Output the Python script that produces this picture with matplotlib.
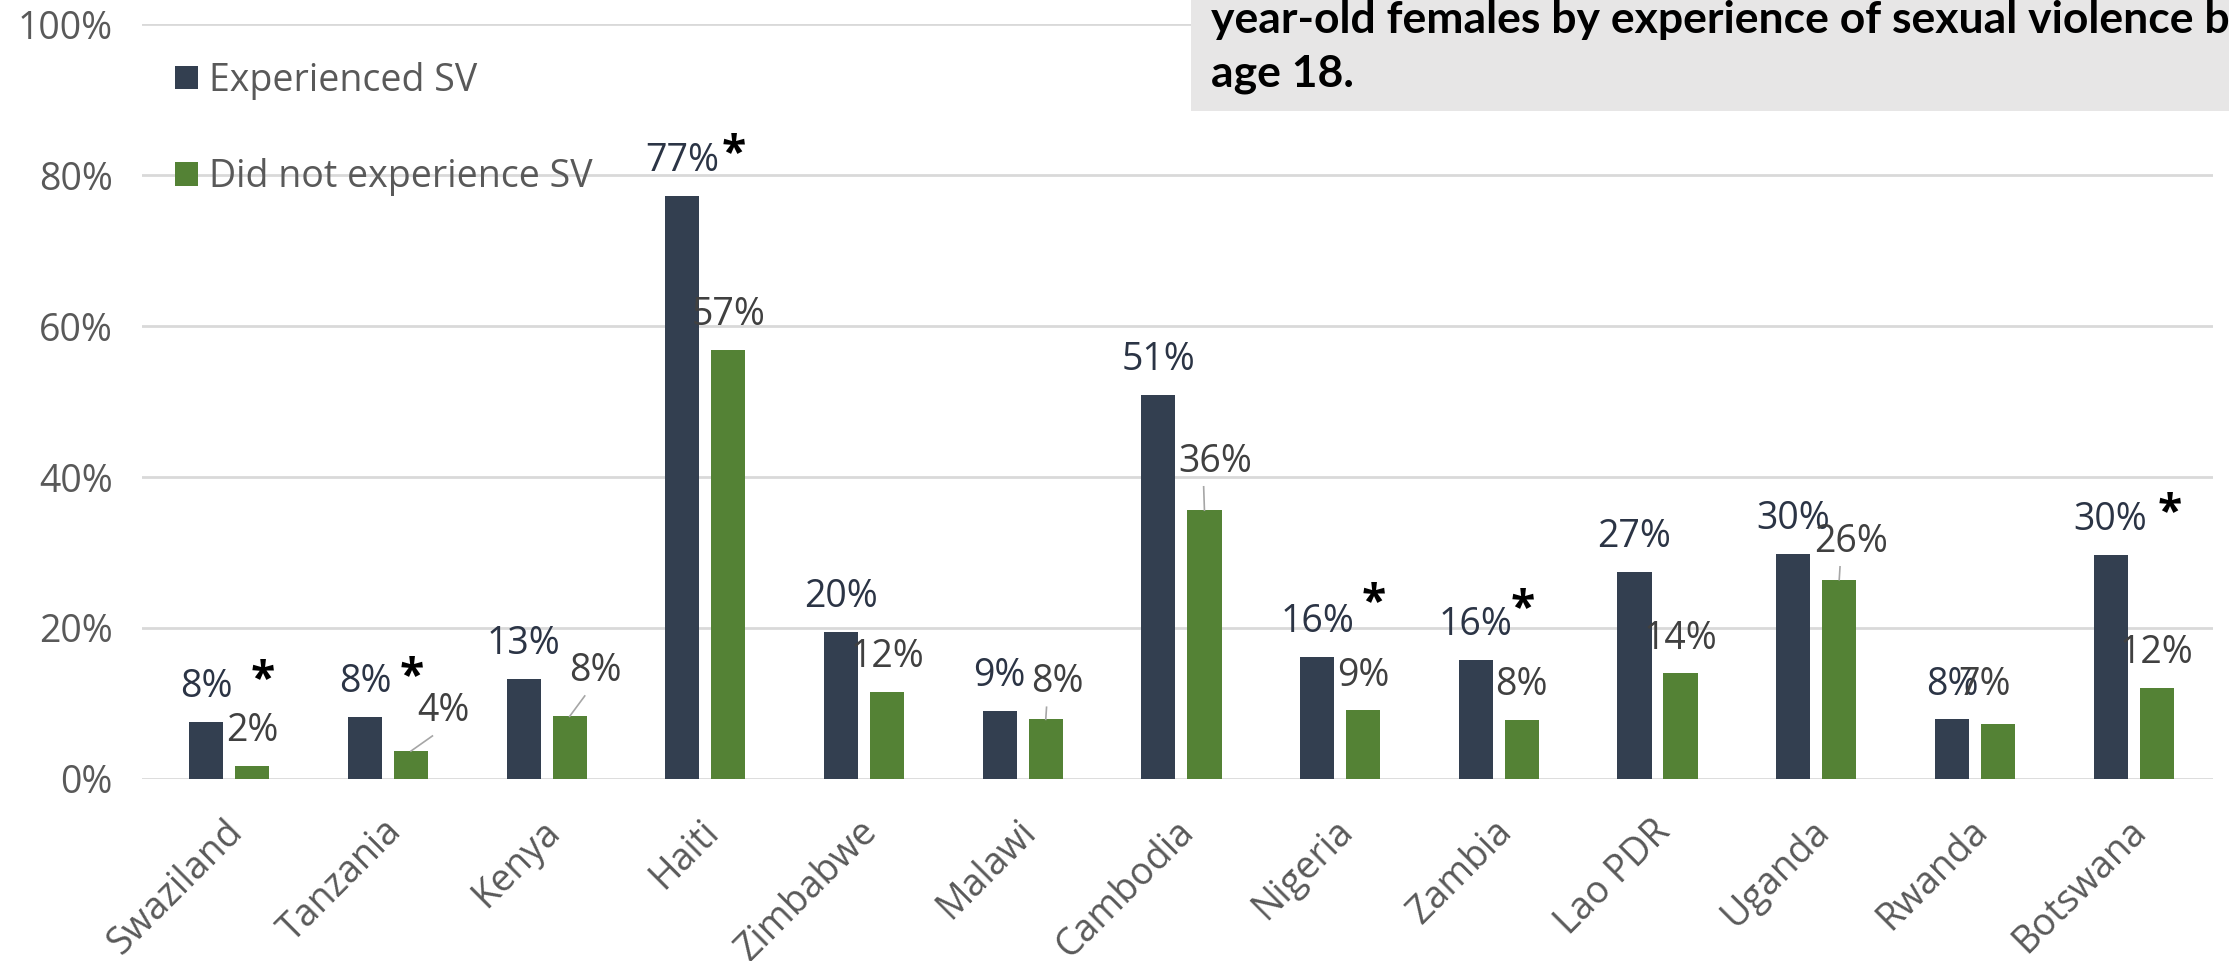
import matplotlib.pyplot as plt
import matplotlib.transforms as mtransforms
from matplotlib.patches import Rectangle

plt.rcParams['font.family'] = ['Open Sans', 'DejaVu Sans']

countries = ['Swaziland', 'Tanzania', 'Kenya', 'Haiti', 'Zimbabwe', 'Malawi',
             'Cambodia', 'Nigeria', 'Zambia', 'Lao PDR', 'Uganda', 'Rwanda',
             'Botswana']
experienced = [7.6, 8.2, 13.3, 77.2, 19.5, 9.0, 50.9, 16.2, 15.8, 27.4, 29.8, 7.9, 29.7]
not_experienced = [1.7, 3.7, 8.3, 56.8, 11.5, 7.9, 35.6, 9.1, 7.8, 14.0, 26.4, 7.3, 12.1]
significant = ['Swaziland', 'Tanzania', 'Haiti', 'Nigeria', 'Zambia', 'Botswana']

DARK = '#333F50'
GREEN = '#548235'
GRID = '#D9D9D9'
TXT = '#595959'

# green labels that were dragged off their bars: (dx, dy) from bar top, leader?
moved = {1: (0.205, 5.3, True), 2: (0.165, 6.0, True), 5: (0.075, 4.9, True),
         6: (0.065, 6.4, True), 10: (0.075, 5.0, True), 11: (-0.085, 5.1, False)}
# asterisk spots (x in category units, y in %)
star_pos = {'Swaziland': (0.21, 13.0), 'Tanzania': (1.15, 13.4), 'Haiti': (3.18, 82.7),
            'Nigeria': (7.21, 23.3), 'Zambia': (8.15, 22.4), 'Botswana': (12.23, 35.2)}

fig = plt.figure(figsize=(22.29, 9.61), dpi=100)
ax = fig.add_axes([0.0637, 0.1894, 0.9291, 0.7856])

x = list(range(len(countries)))
w = 0.215
off = 0.145
ax.bar([i - off for i in x], experienced, w, color=DARK, label='Experienced SV', zorder=3)
ax.bar([i + off for i in x], not_experienced, w, color=GREEN, label='Did not experience SV', zorder=3)

fs = 27
for i, v in enumerate(experienced):
    ax.annotate(f'{v:.0f}%', (i - off, v), xytext=(0, 25), textcoords='offset points',
                ha='center', va='center', fontsize=fs, color='#2B3445', zorder=4)

for i, v in enumerate(not_experienced):
    if i in moved:
        dx, dy, leader = moved[i]
        lx, ly = i + off + dx, v + dy
        ax.text(lx, ly, f'{v:.0f}%', ha='center', va='center', fontsize=fs,
                color='#404040', zorder=4)
        if leader:
            ax.plot([i + off, lx - 0.07], [v, ly - 3.3], color='#A6A6A6', lw=1.2, zorder=4)
    else:
        ax.annotate(f'{v:.0f}%', (i + off, v), xytext=(0, 25), textcoords='offset points',
                    ha='center', va='center', fontsize=fs, color='#404040', zorder=4)

for name in significant:
    sx, sy = star_pos[name]
    ax.text(sx, sy, '*', ha='center', va='center', fontsize=32, fontweight='bold',
            color='black', zorder=4)

ax.set_xlim(-0.55, 12.5)
ax.set_ylim(0, 100)
ax.set_yticks([0, 20, 40, 60, 80, 100])
ax.set_yticklabels([f'{t}%' for t in [0, 20, 40, 60, 80, 100]])
ax.set_xticks(x)
ax.set_xticklabels(countries, rotation=45, ha='right', va='top', rotation_mode='anchor')
ax.tick_params(axis='both', length=0, labelsize=fs, colors=TXT)
ax.tick_params(axis='y', pad=21)
ax.tick_params(axis='x', pad=24)
shift = mtransforms.ScaledTranslation(-0.06, 0, fig.dpi_scale_trans)
for lbl in ax.get_xticklabels():
    lbl.set_transform(lbl.get_transform() + shift)
ax.yaxis.grid(True, color=GRID, lw=2, zorder=0)
for s in ax.spines.values():
    s.set_visible(False)

ax.legend(loc='upper left', bbox_to_anchor=(0.016, 0.95), frameon=False, fontsize=fs,
          labelcolor=TXT, handlelength=0.6, handleheight=0.6, handletextpad=0.3,
          labelspacing=1.55, borderpad=0, borderaxespad=0)

# title box, partly outside the canvas
fig.patches.append(Rectangle((1191 / 2229, 1 - 111 / 961), 1.0, 0.2,
                             transform=fig.transFigure, facecolor='#E7E6E6',
                             edgecolor='none', zorder=5))
title_kw = dict(fontsize=32, fontweight='bold', va='center', ha='left',
                color='black', family='Lato', zorder=6)
fig.text(1211 / 2229, 1 - 20 / 961,
         'year-old females by experience of sexual violence before', **title_kw)
fig.text(1211 / 2229, 1 - 74 / 961, 'age 18.', **title_kw)

fig.savefig('out.png', dpi=100)
